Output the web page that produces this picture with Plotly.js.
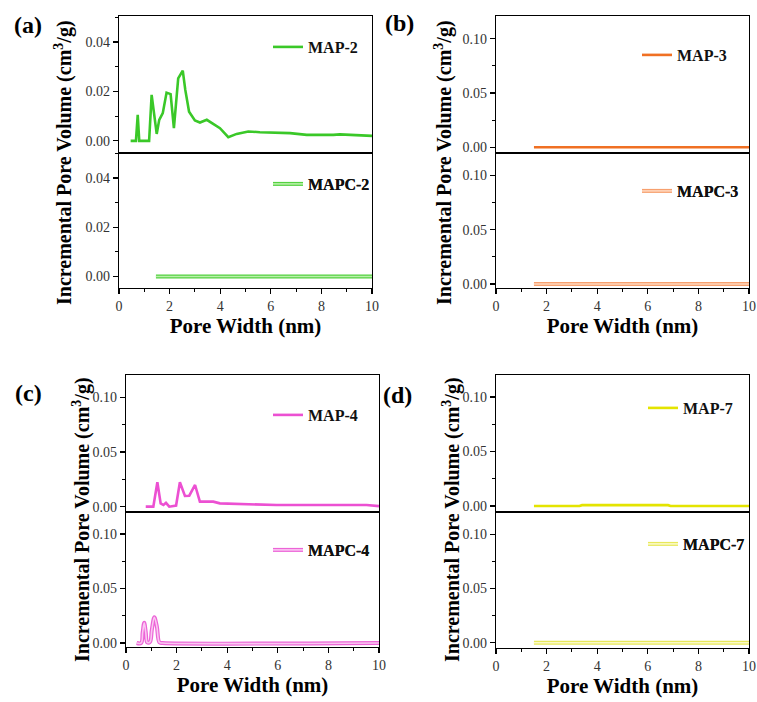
<!DOCTYPE html>
<html>
<head>
<meta charset="utf-8">
<script src="https://cdn.plot.ly/plotly-3.0.1.min.js"></script>
<style>html,body{margin:0;padding:0;background:#fff;}#chart{width:757px;height:702px;}</style>
</head>
<body>
<div id="chart"></div>
<script>
// ---------- data ----------
const map2X = [0.46, 0.67, 0.74, 0.80, 1.19, 1.29, 1.49, 1.59, 1.73, 1.88, 2.04, 2.17, 2.34, 2.52, 2.62, 2.77, 3.0, 3.2, 3.47, 3.99, 4.32, 4.65, 5.11, 5.57, 6.76, 7.42, 8.47, 8.73, 10.0];
const map2Y = [0, 0, 0.0105, 0, 0, 0.0186, 0.0028, 0.0085, 0.0112, 0.0195, 0.0189, 0.0051, 0.0253, 0.0284, 0.0206, 0.0118, 0.0082, 0.0074, 0.0085, 0.0051, 0.0015, 0.0028, 0.0038, 0.0035, 0.0031, 0.0024, 0.0024, 0.0026, 0.0020];
const mapc2X = [1.46, 4.35, 4.4, 6.3, 6.34, 10.0];
const mapc2Y = [0, 0, 0.0003, 0.0003, 0, 0];
const map3X = [1.5, 10.0];
const map3Y = [0, 0];
const mapc3X = [1.5, 10.0];
const mapc3Y = [0, 0];
const map4X = [0.78, 1.08, 1.24, 1.37, 1.48, 1.58, 1.71, 1.98, 2.13, 2.33, 2.50, 2.73, 2.92, 3.45, 3.71, 4.77, 5.95, 9.51, 10.0];
const map4Y = [0, 0, 0.0223, 0.003, 0.0015, 0.0035, 0, 0.001, 0.0223, 0.0098, 0.010, 0.0198, 0.0046, 0.0046, 0.003, 0.002, 0.0015, 0.0015, 0.0005];
const mapc4X = [0.42, 0.60, 0.66, 0.72, 0.78, 0.84, 0.95, 1.02, 1.12, 1.22, 1.32, 1.45, 10.0];
const mapc4Y = [0, 0, 0.010, 0.0185, 0.010, 0.0005, 0.001, 0.012, 0.0235, 0.015, 0.0005, 0, 0];
const map7X = [1.5, 3.3, 3.4, 6.8, 6.9, 10.0];
const map7Y = [0, 0, 0.0008, 0.0008, 0, 0];
const mapc7X = [1.5, 10.0];
const mapc7Y = [0, 0];

const seriesNames = ['MAP-2', 'MAPC-2', 'MAP-3', 'MAPC-3', 'MAP-4', 'MAPC-4', 'MAP-7', 'MAPC-7'];
const xTickVals = [0, 2, 4, 6, 8, 10];

// ---------- styling ----------
const W = 757, H = 702;
const serif = 'Liberation Serif, Times New Roman, serif';
const px = v => v / W;
const py = v => 1 - v / H;

const traces = [];
function solid(x, y, name, color, ax, leg) {
  traces.push({x: x, y: y, name: name, type: 'scatter', mode: 'lines',
    line: {color: color, width: 2.6}, xaxis: 'x' + ax, yaxis: 'y' + ax, legend: leg});
}
function hollow(x, y, name, outer, inner, ax, leg, leg2, shape) {
  traces.push({x: x, y: y, name: name, type: 'scatter', mode: 'lines',
    line: {color: outer, width: 4, shape: shape || 'linear'}, xaxis: 'x' + ax, yaxis: 'y' + ax, legend: leg});
  traces.push({x: x, y: y, name: name, type: 'scatter', mode: 'lines',
    line: {color: inner, width: 1.6, shape: shape || 'linear'}, xaxis: 'x' + ax, yaxis: 'y' + ax, legend: leg2});
}
solid(map2X, map2Y, seriesNames[0], 'rgb(58,200,40)', '', 'legend');
hollow(mapc2X, mapc2Y, seriesNames[1], 'rgb(85,210,65)', 'rgb(185,240,170)', '2', 'legend2', 'legend9');
solid(map3X, map3Y, seriesNames[2], 'rgb(240,112,35)', '3', 'legend3');
hollow(mapc3X, mapc3Y, seriesNames[3], 'rgb(247,160,110)', 'rgb(255,215,190)', '4', 'legend4', 'legend10');
solid(map4X, map4Y, seriesNames[4], 'rgb(236,80,210)', '5', 'legend5');
hollow(mapc4X, mapc4Y, seriesNames[5], 'rgb(236,100,215)', 'rgb(250,200,242)', '6', 'legend6', 'legend11', 'spline');
solid(map7X, map7Y, seriesNames[6], 'rgb(228,228,0)', '7', 'legend7');
hollow(mapc7X, mapc7Y, seriesNames[7], 'rgb(232,232,90)', 'rgb(250,250,200)', '8', 'legend8', 'legend12');

// geometry (pixels) per panel: left, right, top, divider, bottom
const panels = [
  {l: 119, r: 372, t: 16, m: 152.7, b: 288, yr1: [-0.0048, 0.0505], yr2: [-0.0047, 0.0503], dt: 0.02},
  {l: 496, r: 749, t: 16, m: 152.7, b: 288, yr1: [-0.005, 0.121], yr2: [-0.0037, 0.121], dt: 0.05},
  {l: 126, r: 379, t: 375.3, m: 511.7, b: 647, yr1: [-0.0046, 0.120], yr2: [-0.0037, 0.1205], dt: 0.05},
  {l: 496, r: 749, t: 375.3, m: 511.7, b: 647.7, yr1: [-0.0052, 0.120], yr2: [-0.0046, 0.121], dt: 0.05}
];

const layout = {
  width: W, height: H, autosize: false,
  margin: {l: 0, r: 0, t: 0, b: 0, pad: 0},
  paper_bgcolor: '#fff', plot_bgcolor: '#fff',
  font: {family: serif, size: 13, color: '#333'},
  annotations: [], showlegend: true
};

function xAx(dom, anchor, labels) {
  const ax = {domain: dom, anchor: anchor, range: [0, 10], showgrid: false, zeroline: false,
    showline: true, mirror: true, linecolor: '#000', linewidth: 1.1,
    ticks: labels ? 'outside' : '', ticklen: 5, tickwidth: 1.2, tickcolor: '#000',
    tickvals: xTickVals, showticklabels: labels,
    tickfont: {family: serif, size: 14, color: '#333'}};
  if (labels) {
    ax.minor = {dtick: 1, ticks: 'outside', ticklen: 3, tickwidth: 1, tickcolor: '#000'};
    ax.title = {text: 'Pore Width (nm)', font: {family: serif, size: 21, color: '#000', weight: 'bold'}, standoff: 4};
  }
  return ax;
}
function yAx(dom, anchor, range, dt) {
  return {domain: dom, anchor: anchor, range: range, showgrid: false, zeroline: false,
    showline: true, mirror: true, linecolor: '#000', linewidth: 1.1,
    ticks: 'outside', ticklen: 5, tickwidth: 1.2, tickcolor: '#000',
    dtick: dt, tick0: 0, tickformat: '.2f',
    tickfont: {family: serif, size: 14, color: '#333'},
    minor: {dtick: dt / 2, ticks: 'outside', ticklen: 3, tickwidth: 1, tickcolor: '#000'}};
}

panels.forEach((p, i) => {
  const a1 = 2 * i + 1, a2 = 2 * i + 2;
  const n1 = a1 === 1 ? '' : String(a1), n2 = String(a2);
  const xd = [px(p.l), px(p.r)];
  layout['xaxis' + n1] = xAx(xd, 'y' + n1, false);
  layout['yaxis' + n1] = yAx([py(p.m), py(p.t)], 'x' + n1, p.yr1, p.dt);
  layout['xaxis' + n2] = xAx(xd, 'y' + n2, true);
  layout['yaxis' + n2] = yAx([py(p.b), py(p.m)], 'x' + n2, p.yr2, p.dt);
});

// legends (second set only adds the inner stroke of the double lines)
const legPos = [[268, 47], [268, 184], [637, 55], [637, 191], [268, 415], [268, 550], [643, 408], [643, 544]];
function legObj(x, y) {
  return {x: px(x), y: py(y), xanchor: 'left', yanchor: 'middle', bgcolor: 'rgba(0,0,0,0)',
    borderwidth: 0, font: {family: serif, size: 16, weight: 'bold', color: '#111'},
    itemclick: false};
}
legPos.forEach((p, i) => { layout[i === 0 ? 'legend' : 'legend' + (i + 1)] = legObj(p[0], p[1]); });
[[268, 184], [637, 191], [268, 550], [643, 544]].forEach((p, i) => { layout['legend' + (9 + i)] = legObj(p[0], p[1]); });

// panel labels and y titles
const labels = [['(a)', 28, 25], ['(b)', 399, 23], ['(c)', 28, 393], ['(d)', 397, 395]];
labels.forEach(l => layout.annotations.push({text: l[0], x: px(l[1]), y: py(l[2]), xref: 'paper', yref: 'paper',
  showarrow: false, xanchor: 'center', yanchor: 'middle', font: {family: serif, size: 24, weight: 'bold', color: '#000'}}));
const yTitles = [[63, 163], [443, 163], [81, 520], [451, 520]];
yTitles.forEach(t => layout.annotations.push({text: 'Incremental Pore Volume (cm<sup>3</sup>/g)', x: px(t[0]), y: py(t[1]),
  xref: 'paper', yref: 'paper', showarrow: false, textangle: -90, xanchor: 'center', yanchor: 'middle',
  font: {family: serif, size: 20, weight: 'bold', color: '#000'}}));

Plotly.newPlot('chart', traces, layout, {staticPlot: true, displayModeBar: false});
</script>
</body>
</html>
